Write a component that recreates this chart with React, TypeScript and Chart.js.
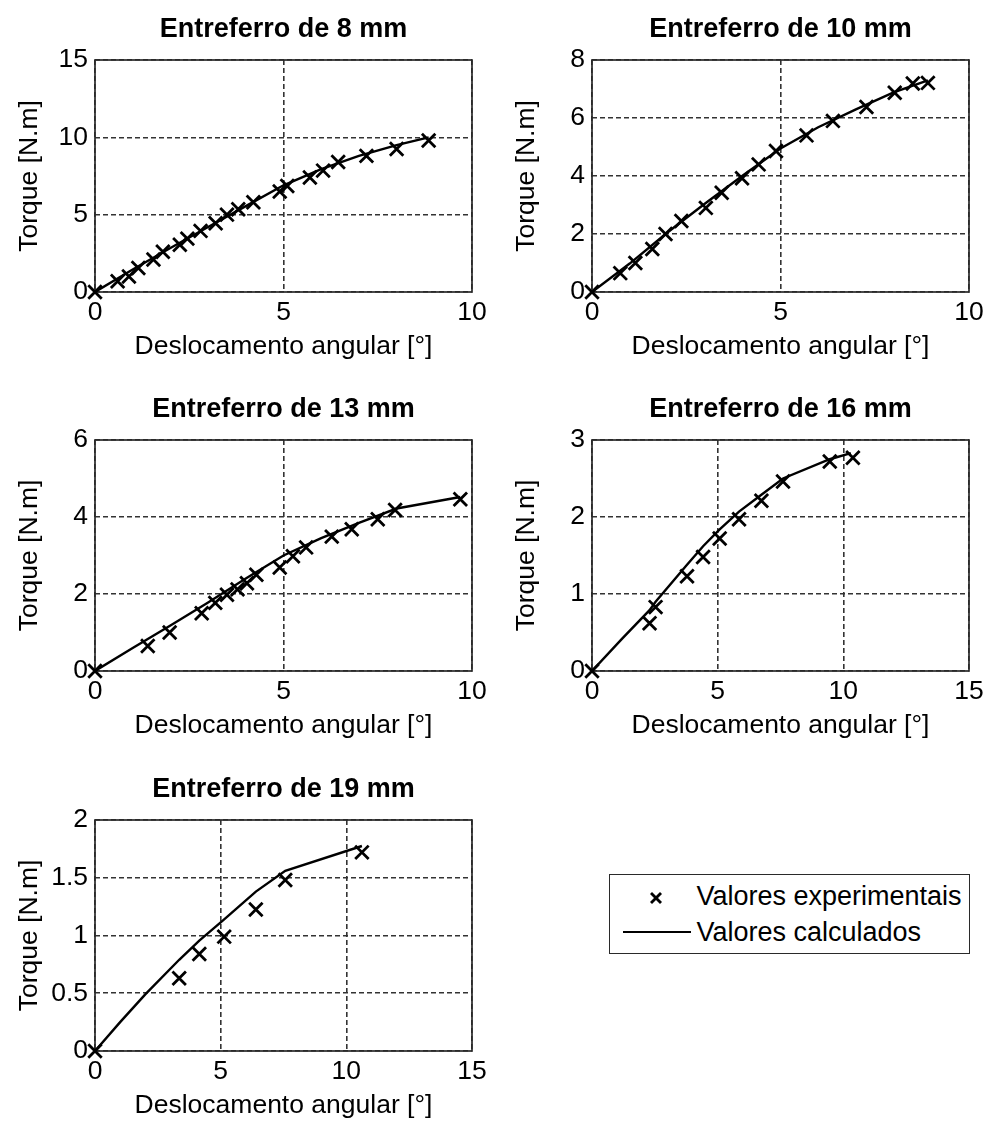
import React, { useEffect, useRef } from 'react';
import { Chart, registerables } from 'chart.js';

Chart.register(...registerables);

const FONT = '"Liberation Sans", Arial, Helvetica, sans-serif';

// ---- Data ----
const xLabel = 'Deslocamento angular [°]';
const yLabel = 'Torque [N.m]';
const legendLabels = ['Valores experimentais', 'Valores calculados'];

// Entreferro de 8 mm
const exp8X = [0, 0.6, 0.9, 1.15, 1.55, 1.8, 2.25, 2.45, 2.8, 3.2, 3.5, 3.8, 4.2, 4.9, 5.1, 5.7, 6.05, 6.45, 7.2, 8.0, 8.85];
const exp8Y = [0, 0.7, 1.0, 1.55, 2.1, 2.6, 3.05, 3.45, 3.95, 4.45, 5.0, 5.35, 5.8, 6.5, 6.85, 7.4, 7.85, 8.4, 8.8, 9.25, 9.8];
const calc8X = [0, 1, 2, 3, 4, 5, 6, 7, 8, 8.85];
const calc8Y = [0, 1.45, 2.85, 4.2, 5.55, 6.9, 7.95, 8.8, 9.5, 10.0];

// Entreferro de 10 mm
const exp10X = [0, 0.75, 1.15, 1.6, 1.95, 2.37, 3.02, 3.44, 3.98, 4.42, 4.88, 5.69, 6.39, 7.28, 8.03, 8.51, 8.91];
const exp10Y = [0, 0.65, 1.0, 1.48, 2.0, 2.45, 2.9, 3.42, 3.92, 4.4, 4.86, 5.4, 5.9, 6.38, 6.87, 7.19, 7.21];
const calc10X = [0, 1, 2, 3, 4, 5, 6, 7, 8, 8.91];
const calc10Y = [0, 0.98, 2.05, 3.05, 4.02, 4.95, 5.68, 6.3, 6.88, 7.3];

// Entreferro de 13 mm
const exp13X = [0, 1.4, 1.98, 2.83, 3.19, 3.5, 3.78, 4.03, 4.28, 4.9, 5.25, 5.6, 6.28, 6.81, 7.5, 7.96, 9.69];
const exp13Y = [0, 0.65, 1.0, 1.5, 1.77, 1.98, 2.12, 2.28, 2.5, 2.69, 2.98, 3.21, 3.49, 3.68, 3.94, 4.18, 4.46];
const calc13X = [0, 1, 2, 3, 4, 5, 6, 7, 8, 9.69];
const calc13Y = [0, 0.6, 1.18, 1.78, 2.4, 3.0, 3.45, 3.85, 4.22, 4.52];

// Entreferro de 16 mm
const exp16X = [0, 2.29, 2.53, 3.78, 4.42, 5.08, 5.85, 6.74, 7.6, 9.46, 10.38];
const exp16Y = [0, 0.62, 0.83, 1.23, 1.48, 1.72, 1.97, 2.21, 2.46, 2.72, 2.77];
const calc16X = [0, 1.2, 2.29, 2.53, 3.78, 4.42, 5.08, 5.85, 6.74, 7.6, 9.46, 10.3];
const calc16Y = [0, 0.42, 0.79, 0.9, 1.38, 1.62, 1.84, 2.07, 2.29, 2.5, 2.75, 2.83];

// Entreferro de 19 mm
const exp19X = [0, 3.35, 4.15, 5.14, 6.4, 7.57, 10.62];
const exp19Y = [0, 0.63, 0.84, 0.99, 1.225, 1.48, 1.72];
const calc19X = [0, 1, 2, 3.35, 4.15, 5.14, 6.4, 7.57, 10.62];
const calc19Y = [0, 0.25, 0.49, 0.79, 0.955, 1.14, 1.38, 1.56, 1.775];

// Axis ranges / tick steps
const titles = ['Entreferro de 8 mm', 'Entreferro de 10 mm', 'Entreferro de 13 mm', 'Entreferro de 16 mm', 'Entreferro de 19 mm'];
const xMaxes = [10, 10, 10, 15, 15];
const xSteps = [5, 5, 5, 5, 5];
const yMaxes = [15, 8, 6, 3, 2];
const ySteps = [5, 2, 2, 1, 0.5];

// ---- Layout (page pixels of each plot box) ----
const boxes = [
  { l: 95, t: 60, r: 472, b: 292 },
  { l: 592, t: 60, r: 969, b: 292 },
  { l: 95, t: 440, r: 472, b: 671 },
  { l: 592, t: 440, r: 969, b: 671 },
  { l: 95, t: 820, r: 472, b: 1051 },
];
const AXIS_W = 95;
const TOP_H = 60;
const BOTTOM_H = 73;
const RIGHT_PAD = 24;
const FS = 26.5;
const TITLE_FS = 27;

const series = [
  [exp8X, exp8Y, calc8X, calc8Y],
  [exp10X, exp10Y, calc10X, calc10Y],
  [exp13X, exp13Y, calc13X, calc13Y],
  [exp16X, exp16Y, calc16X, calc16Y],
  [exp19X, exp19Y, calc19X, calc19Y],
];

const toPts = (xs: number[], ys: number[]) => xs.map((x, i) => ({ x, y: ys[i] }));

const boxPlugin = {
  id: 'matlabBox',
  beforeDatasetsDraw(chart: any) {
    const { ctx, chartArea: a } = chart;
    ctx.save();
    ctx.strokeStyle = '#2a2a2a';
    ctx.lineWidth = 1.7;
    ctx.strokeRect(a.left, a.top, a.right - a.left, a.bottom - a.top);
    ctx.restore();
  },
};

function Panel({ idx }: { idx: number }) {
  const ref = useRef<HTMLCanvasElement | null>(null);
  const bx = boxes[idx];
  const w = bx.r - bx.l + AXIS_W + RIGHT_PAD;
  const h = bx.b - bx.t + TOP_H + BOTTOM_H;

  useEffect(() => {
    if (!ref.current) return;
    const [ex, ey, cx, cy] = series[idx];
    const tickFont = { family: FONT, size: FS };
    const titleLH = TITLE_FS * 1.2;
    const tPad = (TOP_H - titleLH) / 2;
    const chart = new Chart(ref.current, {
      type: 'scatter',
      data: {
        datasets: [
          {
            label: legendLabels[0],
            data: toPts(ex, ey),
            showLine: false,
            pointStyle: 'crossRot',
            pointRadius: 9.5,
            pointHoverRadius: 9.5,
            pointBorderWidth: 2.8,
            pointBorderColor: '#000',
            borderColor: '#000',
            backgroundColor: '#000',
            clip: false,
          } as any,
          {
            label: legendLabels[1],
            data: toPts(cx, cy),
            showLine: true,
            borderColor: '#000',
            borderWidth: 2.4,
            pointRadius: 0,
            pointHoverRadius: 0,
            tension: 0,
            fill: false,
          } as any,
        ],
      },
      options: {
        animation: false,
        responsive: false,
        events: [],
        layout: { padding: { left: 0, top: 0, right: RIGHT_PAD, bottom: 0 } },
        plugins: {
          legend: { display: false },
          tooltip: { enabled: false },
          title: {
            display: true,
            text: titles[idx],
            fullSize: false,
            color: '#000',
            font: { family: FONT, size: TITLE_FS, weight: 'bold' },
            padding: { top: tPad, bottom: tPad },
          },
        },
        scales: {
          x: {
            type: 'linear',
            min: 0,
            max: xMaxes[idx],
            ticks: {
              stepSize: xSteps[idx],
              color: '#000',
              font: tickFont,
              padding: 5,
              maxRotation: 0,
              autoSkip: false,
              callback: (v: any) => String(Number(v)),
            },
            grid: { color: '#333', lineWidth: 1.6, drawTicks: false },
            border: { display: false, dash: [5, 3] },
            title: {
              display: true,
              text: xLabel,
              color: '#000',
              font: tickFont,
              padding: { top: 0, bottom: 2 },
            },
            afterFit: (s: any) => {
              s.height = BOTTOM_H;
            },
          },
          y: {
            type: 'linear',
            min: 0,
            max: yMaxes[idx],
            ticks: {
              stepSize: ySteps[idx],
              color: '#000',
              font: tickFont,
              padding: 7,
              autoSkip: false,
              callback: (v: any) => String(Number(v)),
            },
            grid: { color: '#333', lineWidth: 1.6, drawTicks: false },
            border: { display: false, dash: [5, 3] },
            title: {
              display: true,
              text: yLabel,
              color: '#000',
              font: tickFont,
              padding: { top: 14, bottom: 0 },
            },
            afterFit: (s: any) => {
              s.width = AXIS_W;
            },
          },
        },
      } as any,
      plugins: [boxPlugin],
    });
    return () => chart.destroy();
  }, [idx]);

  return (
    <canvas
      ref={ref}
      width={w}
      height={h}
      style={{
        position: 'absolute',
        left: bx.l - AXIS_W,
        top: bx.t - TOP_H,
        width: w,
        height: h,
      }}
    />
  );
}

function Legend() {
  return (
    <div
      style={{
        position: 'absolute',
        left: 609,
        top: 874,
        width: 361,
        height: 80,
        boxSizing: 'border-box',
        border: '1.7px solid #2a2a2a',
        background: '#fff',
        fontFamily: FONT,
        fontSize: 27,
        color: '#000',
      }}
    >
      <svg
        width={12}
        height={12}
        style={{ position: 'absolute', left: 39.5, top: 16.5 }}
        viewBox="0 0 12 12"
      >
        <line x1={1} y1={1} x2={11} y2={11} stroke="#000" strokeWidth={2.8} />
        <line x1={11} y1={1} x2={1} y2={11} stroke="#000" strokeWidth={2.8} />
      </svg>
      <span style={{ position: 'absolute', left: 86.5, top: 6, lineHeight: '30px', whiteSpace: 'nowrap' }}>
        {legendLabels[0]}
      </span>
      <div
        style={{
          position: 'absolute',
          left: 12.5,
          top: 55.5,
          width: 68,
          height: 2.4,
          background: '#000',
        }}
      />
      <span style={{ position: 'absolute', left: 86.5, top: 41.5, lineHeight: '30px', whiteSpace: 'nowrap' }}>
        {legendLabels[1]}
      </span>
    </div>
  );
}

export default function App() {
  return (
    <div
      style={{
        position: 'absolute',
        left: 0,
        top: 0,
        width: 987,
        height: 1121,
        overflow: 'hidden',
        background: '#fff',
      }}
    >
      {boxes.map((_, i) => (
        <Panel key={i} idx={i} />
      ))}
      <Legend />
    </div>
  );
}
